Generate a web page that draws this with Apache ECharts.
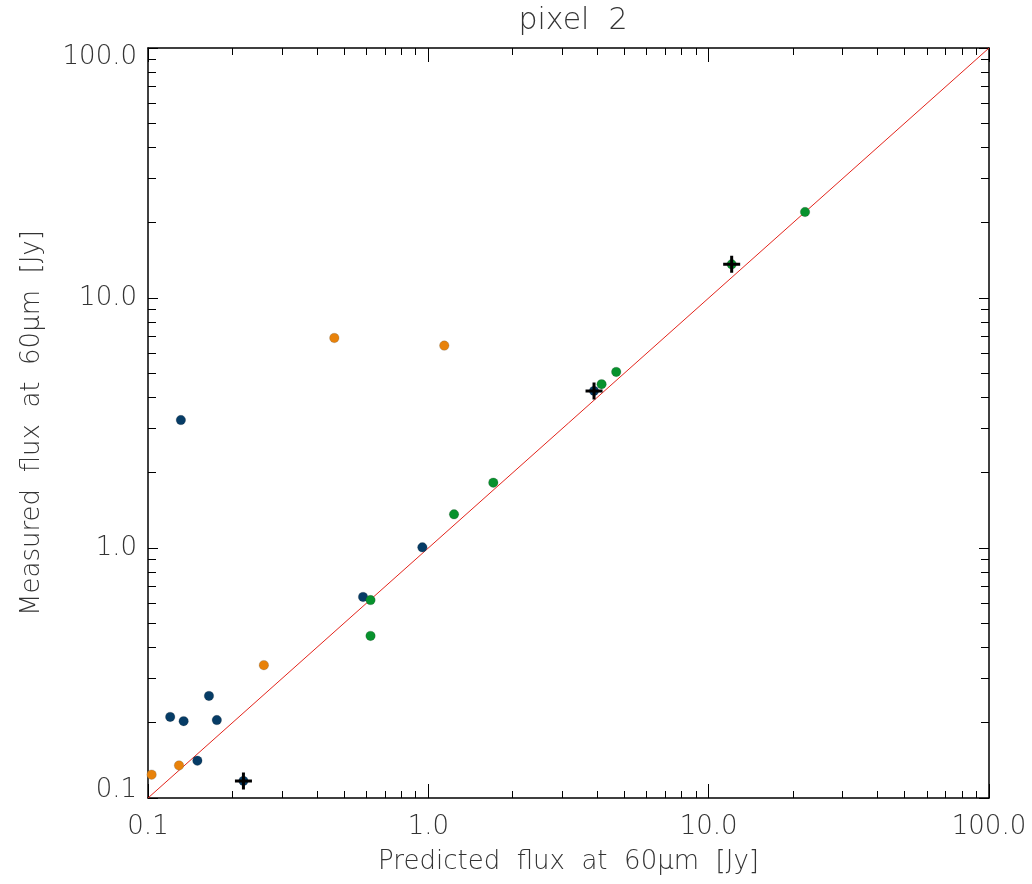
<!DOCTYPE html>
<html>
<head>
<meta charset="utf-8">
<script src="https://cdn.jsdelivr.net/npm/echarts@6/dist/echarts.min.js"></script>
<style>
  html, body { margin: 0; padding: 0; background: #fff; }
  #chart { width: 1032px; height: 884px; }
</style>
</head>
<body>
<div id="chart"></div>
<script>
// Predicted vs measured 60 micron flux, three source groups plus flagged sources
const blueX   = [0.131, 0.120, 0.134, 0.165, 0.176, 0.150, 0.952, 0.585, 3.90, 0.219];
const blueY   = [3.25, 0.211, 0.203, 0.256, 0.205, 0.141, 1.006, 0.637, 4.25, 0.117];
const orangeX = [0.103, 0.129, 0.259, 0.462, 1.14];
const orangeY = [0.124, 0.135, 0.340, 6.92, 6.45];
const greenX  = [0.622, 0.622, 1.235, 1.705, 4.15, 4.68, 12.08, 22.07];
const greenY  = [0.619, 0.445, 1.364, 1.825, 4.52, 5.06, 13.64, 22.08];
const flaggedX = [0.219, 3.90, 12.08];
const flaggedY = [0.117, 4.25, 13.64];
// one-to-one reference line
const oneToOne = [0.1, 100];

const tickValues = [0.1, 1, 10, 100];
const tickLabels = ['0.1', '1.0', '10.0', '100.0'];
const minorTickValues = [0.2, 0.3, 0.4, 0.5, 0.6, 0.7, 0.8, 0.9,
                         2, 3, 4, 5, 6, 7, 8, 9,
                         20, 30, 40, 50, 60, 70, 80, 90];

const FONT = '"DejaVu Sans ExtraLight", "DejaVu Sans", sans-serif';
const TEXT_COLOR = '#333';

function pairs(xs, ys) { return xs.map((x, i) => [x, ys[i]]); }
function tickIndex(v) {
  for (let i = 0; i < tickValues.length; i++) {
    if (Math.abs(Math.log10(v) - Math.log10(tickValues[i])) < 1e-6) return i;
  }
  return -1;
}
function xLabel(v) { const i = tickIndex(v); return i < 0 ? '' : tickLabels[i]; }
// end labels of the vertical axis sit inside the frame
function yLabel(v) {
  const i = tickIndex(v);
  if (i < 0) return '';
  if (i === 0) return '{lo|' + tickLabels[i] + '}';
  if (i === tickValues.length - 1) return '{hi|' + tickLabels[i] + '}';
  return tickLabels[i];
}

const chart = echarts.init(document.getElementById('chart'), null, { renderer: 'canvas' });

function baseAxis(extra) {
  return Object.assign({
    type: 'log', logBase: 10, min: 0.1, max: 100,
    splitLine: { show: false },
    axisLine: { show: false, onZero: false },
    axisLabel: { show: false },
    axisTick: { show: false }
  }, extra);
}

const majorTick = (len) => ({ show: true, inside: true, length: len, customValues: tickValues,
                              lineStyle: { color: '#000', width: 1 } });
const minorTick = (len) => ({ show: true, inside: true, length: len, customValues: minorTickValues,
                              lineStyle: { color: '#000', width: 1 } });
const frameLine = { show: true, onZero: false, lineStyle: { color: '#000', width: 1.5 } };
const textStyle = { fontFamily: FONT, fontSize: 26, fontWeight: 200, color: TEXT_COLOR };

const option = {
  animation: false,
  backgroundColor: '#fff',
  title: {
    text: 'pixel  2',
    left: 568, top: 1, textAlign: 'center',
    textStyle: Object.assign({}, textStyle, { fontSize: 30 })
  },
  grid: { left: 148, right: 43, top: 48, bottom: 86, containLabel: false, outerBoundsMode: 'none' },
  xAxis: [
    baseAxis({
      position: 'bottom',
      axisLine: frameLine,
      axisTick: majorTick(14),
      axisLabel: Object.assign({ show: true, customValues: tickValues, formatter: xLabel, margin: 16 }, textStyle),
      name: 'Predicted  flux  at  60μm  [Jy]',
      nameLocation: 'middle', nameGap: 51,
      nameTextStyle: textStyle
    }),
    baseAxis({ position: 'bottom', axisTick: minorTick(7) }),
    baseAxis({ position: 'top', axisLine: frameLine, axisTick: majorTick(14) }),
    baseAxis({ position: 'top', axisTick: minorTick(7) })
  ],
  yAxis: [
    baseAxis({
      position: 'left',
      axisLine: frameLine,
      axisTick: majorTick(10),
      axisLabel: Object.assign({
        show: true, customValues: tickValues, formatter: yLabel, margin: 11,
        rich: {
          lo: Object.assign({ padding: [0, 0, 15, 0] }, textStyle),
          hi: Object.assign({ padding: [18, 0, 0, 0] }, textStyle)
        }
      }, textStyle),
      name: 'Measured  flux  at  60μm  [Jy]',
      nameLocation: 'middle', nameGap: 103,
      nameTextStyle: textStyle
    }),
    baseAxis({ position: 'left', axisTick: minorTick(8) }),
    baseAxis({ position: 'right', axisLine: frameLine, axisTick: majorTick(10) }),
    baseAxis({ position: 'right', axisTick: minorTick(8) })
  ],
  series: [
    {
      type: 'line', name: 'one-to-one',
      data: oneToOne.map(v => [v, v]),
      showSymbol: false, symbol: 'none',
      lineStyle: { color: '#e3241b', width: 1 },
      z: 1, silent: true
    },
    {
      type: 'scatter', name: 'group A', data: pairs(blueX, blueY),
      symbolSize: 9.5, itemStyle: { color: '#063c66', opacity: 1, borderColor: 'rgba(40,40,40,0.4)', borderWidth: 0.5 }, z: 2
    },
    {
      type: 'scatter', name: 'group B', data: pairs(orangeX, orangeY),
      symbolSize: 9.5, itemStyle: { color: '#e8820a', opacity: 1, borderColor: 'rgba(90,90,90,0.5)', borderWidth: 0.5 }, z: 2
    },
    {
      type: 'scatter', name: 'group C', data: pairs(greenX, greenY),
      symbolSize: 9.5, itemStyle: { color: '#07922d', opacity: 1, borderColor: 'rgba(40,40,40,0.4)', borderWidth: 0.5 }, z: 2
    },
    {
      type: 'scatter', name: 'flagged', data: pairs(flaggedX, flaggedY),
      symbol: 'path://M7,0 H10 V7 H17 V10 H10 V17 H7 V10 H0 V7 H7 Z',
      symbolSize: 17, itemStyle: { color: '#000', opacity: 1 }, z: 3
    }
  ]
};

chart.setOption(option);
</script>
</body>
</html>
